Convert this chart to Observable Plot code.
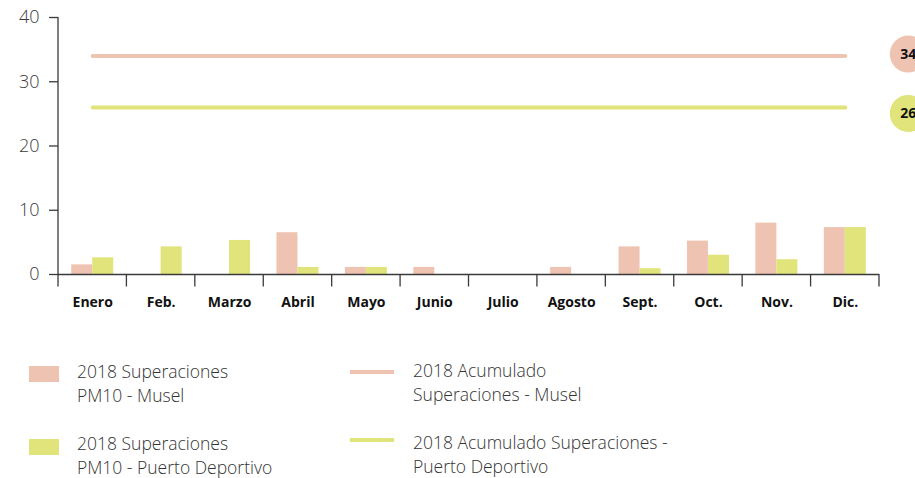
<!DOCTYPE html>
<html><head><meta charset="utf-8">
<script src="https://cdn.jsdelivr.net/npm/d3@7"></script>
<script src="https://cdn.jsdelivr.net/npm/@observablehq/plot@0.6"></script>
<style>
body{margin:0;background:#fff;font-family:"Open Sans",sans-serif;}
#wrap{position:relative;width:915px;height:478px;overflow:hidden;}
#wrap svg{position:absolute;left:0;top:0;overflow:visible;}
.leg{position:absolute;font-weight:300;font-size:17.5px;line-height:24px;color:#333;white-space:nowrap;}
.sw{position:absolute;}
</style></head><body><div id="wrap"></div>
<script>
const months = ["Enero","Feb.","Marzo","Abril","Mayo","Junio","Julio","Agosto","Sept.","Oct.","Nov.","Dic."];
const musel  = [1.5, 0, 0, 6.5, 1.1, 1.1, 0, 1.1, 4.3, 5.2, 8.0, 7.3];
const puerto = [2.6, 4.3, 5.3, 1.1, 1.1, 0, 0, 0, 0.9, 3.0, 2.3, 7.3];
const accMusel = 34;
const accPuerto = 26;
const yTicks = [0, 10, 20, 30, 40];
const seriesNames = ["2018 Superaciones<br>PM10 - Musel", "2018 Superaciones<br>PM10 - Puerto Deportivo",
  "2018 Acumulado<br>Superaciones - Musel", "2018 Acumulado Superaciones -<br>Puerto Deportivo"];
const colMusel = "#efc3b2", colPuerto = "#e0e47a", axisCol = "#3a3a3a";

const dMusel = months.map((m, i) => ({m, v: musel[i]})).filter(d => d.v > 0);
const dPuerto = months.map((m, i) => ({m, v: puerto[i]})).filter(d => d.v > 0);
const lineMusel = [{m: months[0], v: accMusel}, {m: months[months.length - 1], v: accMusel}];
const linePuerto = [{m: months[0], v: accPuerto}, {m: months[months.length - 1], v: accPuerto}];

const W = 915, H = 330, ML = 58, MR = 36, MT = 17, MB = 56;
const lastM = months[months.length - 1];
const chart = Plot.plot({
  width: W, height: H, marginLeft: ML, marginRight: MR, marginTop: MT, marginBottom: MB,
  style: {fontFamily: "'Open Sans', sans-serif", color: axisCol, background: "transparent"},
  x: {type: "band", domain: months, paddingInner: 0.386, paddingOuter: 0.193, round: false, axis: null, label: null},
  y: {domain: [0, 40], axis: null, label: null},
  marks: [
    Plot.barY(dMusel, {x: "m", y: "v", fill: colMusel, insetRight: 21}),
    Plot.barY(dPuerto, {x: "m", y: "v", fill: colPuerto, insetLeft: 21}),
    Plot.line(lineMusel, {x: "m", y: "v", stroke: colMusel, strokeWidth: 4}),
    Plot.line(linePuerto, {x: "m", y: "v", stroke: colPuerto, strokeWidth: 4}),
    Plot.ruleY([0], {stroke: axisCol, strokeWidth: 1.3}),
    Plot.axisY(yTicks, {label: null, tickSize: 9, tickPadding: 10, fontSize: 18, fontWeight: 300, stroke: axisCol, fill: axisCol, strokeWidth: 1.3}),
    Plot.axisX({label: null, tickSize: 0, tickPadding: 23, fontSize: 14, fontWeight: 700, fill: "#111"}),
    Plot.dot([accMusel], {x: () => lastM, y: d => d, r: 18.5, fill: colMusel, dx: 63, dy: -2}),
    Plot.text([accMusel], {x: () => lastM, y: d => d, text: d => String(d), dx: 63, dy: -2, fontSize: 14, fontWeight: 700, fill: "#111"}),
    Plot.dot([accPuerto], {x: () => lastM, y: d => d, r: 18.5, fill: colPuerto, dx: 63, dy: 6}),
    Plot.text([accPuerto], {x: () => lastM, y: d => d, text: d => String(d), dx: 63, dy: 6, fontSize: 14, fontWeight: 700, fill: "#111"})
  ]
});

// boundary ticks and vertical axis line, derived from the scales
const xs = chart.scale("x"), ys = chart.scale("y");
const bw = xs.bandwidth, step = xs.step;
const gap = (step - bw) / 2;
const y0 = ys.apply(0), yTop = ys.apply(40);
const svg = d3.select(chart);
const g = svg.append("g").attr("stroke", axisCol).attr("stroke-width", 1.3);
const bounds = months.map(m => xs.apply(m) - gap).concat([xs.apply(lastM) + bw + gap]);
g.selectAll("line.b").data(bounds).join("line").attr("class", "b")
  .attr("x1", d => d).attr("x2", d => d).attr("y1", y0).attr("y2", y0 + 12.5);
g.append("line").attr("x1", bounds[0]).attr("x2", bounds[0]).attr("y1", yTop).attr("y2", y0);

const wrap = document.getElementById("wrap");
wrap.appendChild(chart);

// legend
const legend = [
  {kind: "rect", col: colMusel, sx: 29, sy: 366, tx: 77, ty: 359, text: seriesNames[0]},
  {kind: "rect", col: colPuerto, sx: 29, sy: 439, tx: 77, ty: 431, text: seriesNames[1]},
  {kind: "line", col: colMusel, sx: 350, sy: 370, tx: 413, ty: 358, text: seriesNames[2]},
  {kind: "line", col: colPuerto, sx: 350, sy: 438, tx: 413, ty: 430, text: seriesNames[3]}
];
for (const it of legend) {
  const s = document.createElement("div");
  s.className = "sw";
  s.style.left = it.sx + "px"; s.style.top = it.sy + "px";
  s.style.width = it.kind === "rect" ? "30px" : "44px";
  s.style.height = it.kind === "rect" ? "16px" : "4px";
  s.style.background = it.col;
  wrap.appendChild(s);
  const t = document.createElement("div");
  t.className = "leg";
  t.style.left = it.tx + "px"; t.style.top = it.ty + "px";
  t.innerHTML = it.text;
  wrap.appendChild(t);
}
</script></body></html>
